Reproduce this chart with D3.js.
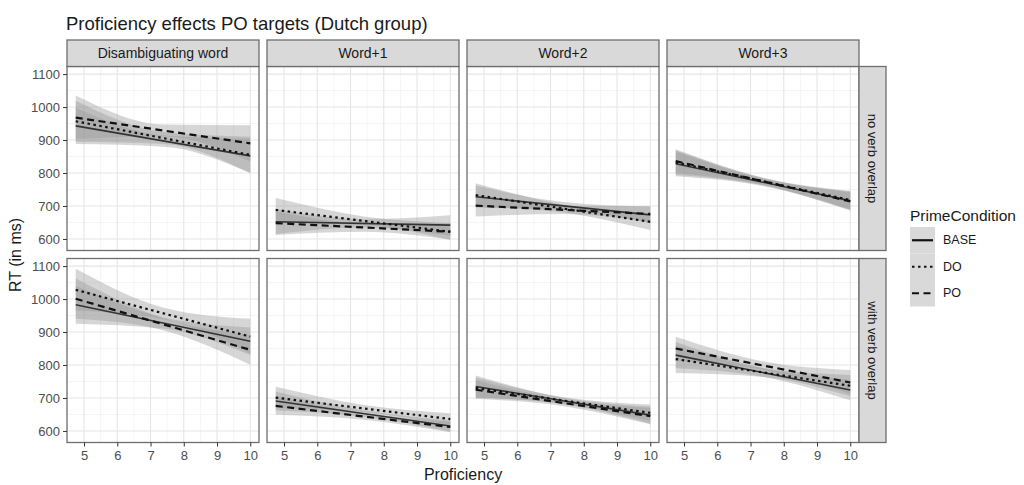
<!DOCTYPE html>
<html>
<head>
<meta charset="utf-8">
<script src="https://cdn.jsdelivr.net/npm/d3@7"></script>
<style>
  html, body { margin: 0; padding: 0; background: #fff; }
  svg { display: block; font-family: "Liberation Sans", Arial, sans-serif; }
</style>
</head>
<body>
<svg id="chart" width="1024" height="485"></svg>
<script>
// Facet labels, conditions and axis ticks
const columnLabels = ["Disambiguating word", "Word+1", "Word+2", "Word+3"];
const rowLabels = ["no verb overlap", "with verb overlap"];
const conditions = ["BASE", "DO", "PO"];
const xTicks = [5, 6, 7, 8, 9, 10];
const yTicks = [600, 700, 800, 900, 1000, 1100];

// Proficiency values where the fitted lines and bands are given
const fitX = [4.75, 10];
const bandX = [4.75, 7.4, 10];

// Fitted RT at proficiency 4.75 and 10: [row][column][BASE, DO, PO]
const fitLow = [
  [[943, 957, 968], [652, 688, 648], [728, 733, 701], [828, 832, 836]],
  [[983, 1028, 1001], [691, 701, 676], [735, 730, 725], [830, 818, 850]]
];
const fitHigh = [
  [[852, 855, 890], [642, 622, 622], [673, 652, 676], [716, 718, 714]],
  [[872, 886, 846], [615, 636, 612], [648, 655, 645], [724, 737, 747]]
];

// Confidence band edges at bandX: [row][column][condition][knot]
const bandLower = [
  [
    [[888, 880, 800], [895, 888, 800], [903, 911, 835]],
    [[615, 635, 610], [650, 642, 597], [612, 622, 598]],
    [[695, 688, 648], [698, 680, 627], [668, 676, 652]],
    [[790, 760, 688], [795, 763, 690], [800, 763, 686]]
  ],
  [
    [[925, 910, 830], [965, 938, 835], [940, 905, 801]],
    [[662, 643, 598], [670, 657, 618], [649, 634, 596]],
    [[702, 681, 622], [700, 682, 630], [698, 675, 620]],
    [[790, 764, 693], [776, 764, 705], [812, 785, 712]]
  ]
];
const bandUpper = [
  [
    [[998, 914, 904], [1019, 924, 910], [1035, 947, 945]],
    [[690, 660, 672], [724, 668, 648], [684, 648, 648]],
    [[762, 712, 698], [769, 704, 677], [735, 700, 700]],
    [[866, 782, 744], [869, 785, 746], [872, 785, 742]]
  ],
  [
    [[1040, 944, 914], [1092, 974, 940], [1062, 941, 891]],
    [[720, 663, 632], [734, 679, 654], [705, 654, 628]],
    [[768, 701, 674], [762, 702, 680], [754, 695, 670]],
    [[870, 790, 755], [860, 790, 770], [886, 811, 785]]
  ]
];

// Layout
const panelLeft = [67, 267, 467, 667];
const panelTop = [66.5, 258.5];
const panelW = 192, panelH = 184;
const stripH = 26.5, sideStripW = 27;
const borderCol = "#6e6e6e";
const dashFor = { BASE: null, DO: "2.5,3.5", PO: "7,4.5" };

const svg = d3.select("#chart");

const x = d3.scaleLinear().domain([4.4875, 10.2625]).range([0, panelW]);
const y = d3.scaleLinear().domain([565, 1123]).range([panelH, 0]);

// Title
svg.append("text")
  .attr("x", 66).attr("y", 30)
  .attr("font-size", 18.5).attr("fill", "#1a1a1a")
  .text("Proficiency effects PO targets (Dutch group)");

const defs = svg.append("defs");

rowLabels.forEach((rowLabel, r) => {
  columnLabels.forEach((colLabel, c) => {
    const g = svg.append("g").attr("transform", `translate(${panelLeft[c]},${panelTop[r]})`);
    const clipId = `clip-${r}-${c}`;
    defs.append("clipPath").attr("id", clipId)
      .append("rect").attr("width", panelW).attr("height", panelH);

    g.append("rect").attr("width", panelW).attr("height", panelH).attr("fill", "#fff");

    // minor grid
    const xMinor = d3.range(4.5, 10.3, 0.5).filter(v => !xTicks.includes(v));
    const yMinor = d3.range(550, 1150, 50).filter(v => !yTicks.includes(v) && v > 565 && v < 1123);
    g.append("g").selectAll("line").data(xMinor).join("line")
      .attr("x1", d => x(d)).attr("x2", d => x(d)).attr("y1", 0).attr("y2", panelH)
      .attr("stroke", "#f2f2f2").attr("stroke-width", 0.8);
    g.append("g").selectAll("line").data(yMinor).join("line")
      .attr("y1", d => y(d)).attr("y2", d => y(d)).attr("x1", 0).attr("x2", panelW)
      .attr("stroke", "#f2f2f2").attr("stroke-width", 0.8);
    // major grid
    g.append("g").selectAll("line").data(xTicks).join("line")
      .attr("x1", d => x(d)).attr("x2", d => x(d)).attr("y1", 0).attr("y2", panelH)
      .attr("stroke", "#e6e6e6").attr("stroke-width", 1.1);
    g.append("g").selectAll("line").data(yTicks).join("line")
      .attr("y1", d => y(d)).attr("y2", d => y(d)).attr("x1", 0).attr("x2", panelW)
      .attr("stroke", "#e6e6e6").attr("stroke-width", 1.1);

    const marks = g.append("g").attr("clip-path", `url(#${clipId})`);

    // confidence bands
    conditions.forEach((cond, k) => {
      const pts = bandX.map((bx, i) => ({ x: bx, lo: bandLower[r][c][k][i], hi: bandUpper[r][c][k][i] }));
      const area = d3.area()
        .x(d => x(d.x)).y0(d => y(d.lo)).y1(d => y(d.hi))
        .curve(d3.curveMonotoneX);
      marks.append("path").datum(pts)
        .attr("d", area).attr("fill", "#999999").attr("fill-opacity", 0.4);
    });

    // fitted lines
    conditions.forEach((cond, k) => {
      const pts = [{ x: fitX[0], v: fitLow[r][c][k] }, { x: fitX[1], v: fitHigh[r][c][k] }];
      const line = d3.line().x(d => x(d.x)).y(d => y(d.v));
      marks.append("path").datum(pts)
        .attr("d", line).attr("fill", "none")
        .attr("stroke", cond === "BASE" ? "#333" : "#111")
        .attr("stroke-width", cond === "BASE" ? 1.6 : 2.2)
        .attr("stroke-dasharray", dashFor[cond]);
    });

    g.append("rect").attr("width", panelW).attr("height", panelH)
      .attr("fill", "none").attr("stroke", borderCol).attr("stroke-width", 1.3);

    // top strips
    if (r === 0) {
      const s = svg.append("g").attr("transform", `translate(${panelLeft[c]},${panelTop[0] - stripH})`);
      s.append("rect").attr("width", panelW).attr("height", stripH)
        .attr("fill", "#d9d9d9").attr("stroke", borderCol).attr("stroke-width", 1.3);
      s.append("text").attr("x", panelW / 2).attr("y", stripH / 2)
        .attr("text-anchor", "middle").attr("dominant-baseline", "central")
        .attr("font-size", 14).attr("fill", "#1a1a1a").text(colLabel);
    }

    // y axis on the first column
    if (c === 0) {
      const ya = g.append("g").call(d3.axisLeft(y).tickValues(yTicks).tickFormat(d3.format("d"))
        .tickSize(4).tickPadding(3));
      ya.select(".domain").remove();
      ya.selectAll(".tick line").attr("stroke", "#333");
      ya.selectAll(".tick text").attr("font-size", 13).attr("fill", "#4d4d4d")
        .attr("font-family", "Liberation Sans, Arial, sans-serif");
    }
    // x axis on the bottom row
    if (r === 1) {
      const xa = g.append("g").attr("transform", `translate(0,${panelH})`)
        .call(d3.axisBottom(x).tickValues(xTicks).tickFormat(d3.format("d"))
          .tickSize(4).tickPadding(4));
      xa.select(".domain").remove();
      xa.selectAll(".tick line").attr("stroke", "#333");
      xa.selectAll(".tick text").attr("font-size", 13).attr("fill", "#4d4d4d")
        .attr("font-family", "Liberation Sans, Arial, sans-serif");
    }
  });

  // right strips
  const sx = panelLeft[3] + panelW;
  const s = svg.append("g").attr("transform", `translate(${sx},${panelTop[r]})`);
  s.append("rect").attr("width", sideStripW).attr("height", panelH)
    .attr("fill", "#d9d9d9").attr("stroke", borderCol).attr("stroke-width", 1.3);
  s.append("text")
    .attr("transform", `translate(${sideStripW / 2},${panelH / 2}) rotate(90)`)
    .attr("text-anchor", "middle").attr("dominant-baseline", "central")
    .attr("font-size", 13).attr("fill", "#1a1a1a").text(rowLabel);
});

// axis titles
svg.append("text")
  .attr("transform", `translate(21,255) rotate(-90)`)
  .attr("text-anchor", "middle").attr("font-size", 16).attr("fill", "#1a1a1a")
  .text("RT (in ms)");
svg.append("text")
  .attr("x", panelLeft[0] + (panelLeft[3] + panelW - panelLeft[0]) / 2).attr("y", 480)
  .attr("text-anchor", "middle").attr("font-size", 16).attr("fill", "#1a1a1a")
  .text("Proficiency");

// legend
const lg = svg.append("g").attr("transform", "translate(910,0)");
lg.append("text").attr("x", 0).attr("y", 221)
  .attr("font-size", 15.5).attr("fill", "#1a1a1a").text("PrimeCondition");
const keyH = 26.5, keyW = 25, keyTop = 227;
conditions.forEach((cond, k) => {
  const ky = keyTop + k * keyH;
  lg.append("rect").attr("x", 0).attr("y", ky).attr("width", keyW).attr("height", keyH)
    .attr("fill", "#d9d9d9");
  lg.append("line").attr("x1", 2).attr("x2", keyW - 2)
    .attr("y1", ky + keyH / 2).attr("y2", ky + keyH / 2)
    .attr("stroke", "#111").attr("stroke-width", 2.2)
    .attr("stroke-dasharray", dashFor[cond]);
  lg.append("text").attr("x", keyW + 8).attr("y", ky + keyH / 2)
    .attr("dominant-baseline", "central")
    .attr("font-size", 12.5).attr("fill", "#1a1a1a").text(cond);
});
</script>
</body>
</html>
